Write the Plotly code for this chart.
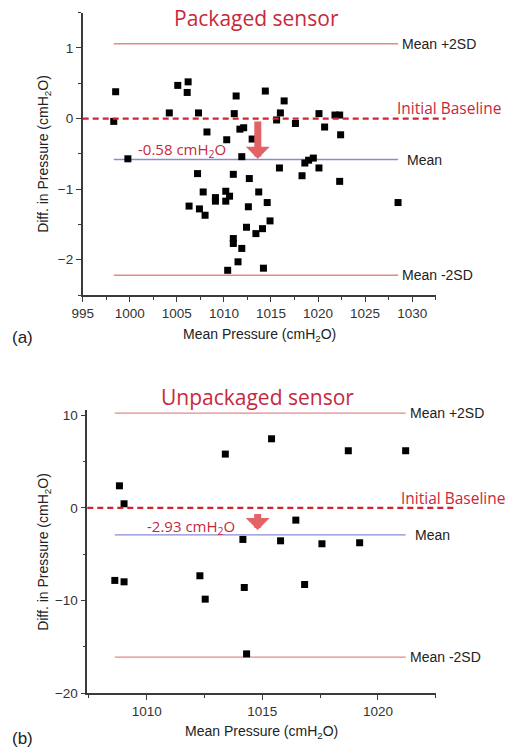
import plotly.graph_objects as go

# ---------------- data ----------------
# (a) Packaged sensor
pkg_mean_pressure = [998.5, 998.3, 999.8, 1004.2, 1005.1, 1006.2, 1006.1, 1007.3, 1008.2, 1007.2,
                     1011.3, 1011.1, 1010.3, 1011.7, 1012.1, 1013.0, 1011.9, 1014.4, 1016.4, 1016.0,
                     1015.6, 1017.6, 1020.1, 1020.7, 1021.8, 1022.3, 1022.4, 1011.0, 1012.7, 1015.9,
                     1018.6, 1019.0, 1019.5, 1020.1, 1007.8, 1009.1, 1009.1, 1006.3, 1007.4, 1008.0,
                     1018.3, 1022.3, 1010.2, 1010.6, 1010.2, 1013.7, 1014.6, 1012.6, 1014.9, 1014.1,
                     1013.4, 1012.4, 1011.0, 1011.0, 1011.9, 1011.5, 1010.4, 1014.2, 1028.5]
pkg_diff = [0.38, -0.04, -0.57, 0.08, 0.47, 0.52, 0.37, 0.08, -0.19, -0.78,
            0.32, 0.07, -0.30, -0.15, -0.13, -0.29, -0.54, 0.39, 0.25, 0.08,
            -0.02, -0.07, 0.07, -0.12, 0.05, 0.05, -0.23, -0.79, -0.85, -0.70,
            -0.63, -0.59, -0.56, -0.70, -1.04, -1.12, -1.17, -1.24, -1.28, -1.37,
            -0.81, -0.89, -1.03, -1.10, -1.17, -1.04, -1.19, -1.25, -1.45, -1.56,
            -1.63, -1.54, -1.70, -1.77, -1.84, -2.03, -2.15, -2.12, -1.19]
pkg_mean = -0.58
pkg_upper = 1.06
pkg_lower = -2.22

# (b) Unpackaged sensor
unp_mean_pressure = [1008.82, 1009.02, 1013.40, 1014.16, 1015.40, 1018.72, 1021.20, 1016.45, 1015.79,
                     1017.58, 1019.21, 1008.62, 1009.02, 1012.30, 1012.53, 1014.22, 1014.32, 1016.83]
unp_diff = [2.37, 0.43, 5.79, -3.41, 7.44, 6.15, 6.15, -1.33, -3.56,
            -3.88, -3.77, -7.83, -7.98, -7.33, -9.85, -8.59, -15.75, -8.27]
unp_mean = -2.93
unp_upper = 10.2
unp_lower = -16.1

x_ticks_a = [995, 1000, 1005, 1010, 1015, 1020, 1025, 1030]
y_ticks_a = [-2, -1, 0, 1]
x_ticks_b = [1010, 1015, 1020]
y_ticks_b = [-20, -10, 0, 10]

# ---------------- style ----------------
RED_TXT = "#c8283c"
RED_DASH = "#d3232e"
SD_COL = "#e8868c"
MEAN_COL = "#8a8ad8"
ARROW_COL = "#e26266"
AX_COL = "#3a3a3a"
TICK_FONT = dict(family="Liberation Sans, Arial", size=13.5, color="#333")
LBL_FONT = dict(family="Liberation Sans, Arial", size=14, color="#222")
HUM_FONT = "Open Sans, Noto Sans"

fig = go.Figure()
fig.add_trace(go.Scatter(x=pkg_mean_pressure, y=pkg_diff, mode="markers",
                         marker=dict(symbol="square", size=7, color="black"),
                         xaxis="x", yaxis="y", cliponaxis=False, showlegend=False))
fig.add_trace(go.Scatter(x=unp_mean_pressure, y=unp_diff, mode="markers",
                         marker=dict(symbol="square", size=7, color="black"),
                         xaxis="x2", yaxis="y2", cliponaxis=False, showlegend=False))


def axis(rng, dom, tickvals, minor_dtick, anchor):
    return dict(range=rng, domain=dom, tickvals=tickvals, anchor=anchor, automargin=False,
                showgrid=False, zeroline=False, showline=True, linecolor=AX_COL,
                linewidth=1.5, ticks="outside", ticklen=5, tickwidth=1.3, tickcolor=AX_COL,
                tickfont=TICK_FONT,
                minor=dict(ticks="outside", ticklen=3, tickwidth=1.2, tickcolor=AX_COL,
                           dtick=minor_dtick, tick0=0))


W, H = 508, 749
fig.update_layout(
    width=W, height=H, margin=dict(l=0, r=0, t=0, b=0, autoexpand=False),
    paper_bgcolor="white", plot_bgcolor="white",
    xaxis=axis([995, 1032.5], [82.7 / W, 435.7 / W], x_ticks_a, 2.5, "y"),
    yaxis=axis([-2.5, 1.5], [1 - 295 / H, 1 - 12.7 / H], y_ticks_a, 0.5, "x"),
    xaxis2=axis([1007.43, 1022.5], [87.3 / W, 435.7 / W], x_ticks_b, 2.5, "y2"),
    yaxis2=axis([-20, 10.5], [1 - 693.3 / H, 1 - 410.4 / H], y_ticks_b, 5, "x2"),
)

shapes = []
ann = []


def panel(xs, mean, upper, lower, xa, ya, dash_end, label_x, label_yshift, arrow_x, arrow_tail,
          arrow_tip, value_text, value_x, value_y, title, title_x, title_y, mean_shift):
    x0, x1 = min(xs), max(xs)
    for val, col in ((upper, SD_COL), (lower, SD_COL), (mean, MEAN_COL)):
        shapes.append(dict(type="line", xref=xa, yref=ya, x0=x0, x1=x1, y0=val, y1=val,
                           line=dict(color=col, width=1.3), layer="below"))
    shapes.append(dict(type="line", xref=xa + " domain", yref=ya, x0=0, x1=dash_end, y0=0, y1=0,
                       line=dict(color=RED_DASH, width=2.2, dash="6px,4px")))
    for val, txt, xs_ in ((upper, "Mean +2SD", 2), (lower, "Mean -2SD", 2), (mean, "Mean", mean_shift)):
        ann.append(dict(xref=xa, yref=ya, x=x1, y=val, text=txt, showarrow=False,
                        xanchor="left", yanchor="middle", xshift=xs_, font=LBL_FONT))
    ann.append(dict(xref="paper", yref=ya, x=label_x, y=0, yshift=label_yshift,
                    text="Initial Baseline", showarrow=False, xanchor="left", yanchor="middle",
                    font=dict(family=HUM_FONT, size=15.5, color=RED_TXT)))
    ann.append(dict(xref=xa, yref=ya, x=arrow_x, y=arrow_tip, ax=arrow_x, ay=arrow_tail,
                    axref=xa, ayref=ya, text="", showarrow=True, arrowhead=1, arrowwidth=7,
                    arrowsize=0.57, arrowcolor=ARROW_COL, standoff=0, startstandoff=0))
    ann.append(dict(xref=xa, yref=ya, x=value_x, y=value_y, text=value_text, showarrow=False,
                    xanchor="center", yanchor="middle",
                    font=dict(family=HUM_FONT, size=15, color=RED_TXT)))
    ann.append(dict(xref="paper", yref="paper", x=title_x, y=title_y, text=title, showarrow=False,
                    xanchor="center", yanchor="middle",
                    font=dict(family=HUM_FONT, size=21, color=RED_TXT)))


panel(pkg_mean_pressure, pkg_mean, pkg_upper, pkg_lower, "x", "y", 1.028, 395 / W, 11,
      1013.6, -0.02, -0.57, "-0.58 cmH<sub>2</sub>O", 1005.5, -0.45,
      "Packaged sensor", 256.2 / W, 1 - 18 / H, 7)
panel(unp_mean_pressure, unp_mean, unp_upper, unp_lower, "x2", "y2", 1.061, 399 / W, 10,
      1014.8, -0.5, -2.4, "-2.93 cmH<sub>2</sub>O", 1011.9, -2.05,
      "Unpackaged sensor", 257.8 / W, 1 - 396.7 / H, 7)

# axis titles
ytitle = "Diff. in Pressure (cmH<sub>2</sub>O)"
xtitle = "Mean Pressure (cmH<sub>2</sub>O)"
ann.append(dict(xref="paper", yref="y domain", x=44 / W, y=0.5, text=ytitle, textangle=-90,
                showarrow=False, xanchor="center", yanchor="middle", font=LBL_FONT))
ann.append(dict(xref="paper", yref="y2 domain", x=44 / W, y=0.5, text=ytitle, textangle=-90,
                showarrow=False, xanchor="center", yanchor="middle", font=LBL_FONT))
ann.append(dict(xref="x domain", yref="paper", x=0.5, y=1 - 335 / H, text=xtitle,
                showarrow=False, xanchor="center", yanchor="middle", font=LBL_FONT))
ann.append(dict(xref="x2 domain", yref="paper", x=0.5, y=1 - 731.7 / H, text=xtitle,
                showarrow=False, xanchor="center", yanchor="middle", font=LBL_FONT))
ann.append(dict(xref="paper", yref="paper", x=10 / W, y=1 - 337 / H, text="(a)", showarrow=False,
                xanchor="left", yanchor="middle",
                font=dict(family="Liberation Sans, Arial", size=17, color="#222")))
ann.append(dict(xref="paper", yref="paper", x=10 / W, y=1 - 738 / H, text="(b)", showarrow=False,
                xanchor="left", yanchor="middle",
                font=dict(family="Liberation Sans, Arial", size=17, color="#222")))

fig.update_layout(shapes=shapes, annotations=ann)
fig.write_html("out.html", config={"displayModeBar": False},
               post_script="document.body.style.margin='0px';document.body.style.padding='0px';"
                           "document.body.style.overflow='hidden';")
